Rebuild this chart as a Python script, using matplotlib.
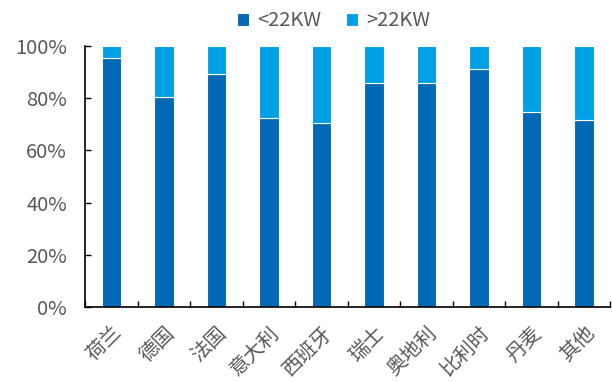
import matplotlib
matplotlib.use('Agg')
import matplotlib.pyplot as plt
import numpy as np

plt.rcParams['font.family'] = ['Noto Sans CJK SC', 'DejaVu Sans']

# data
countries = ['荷兰', '德国', '法国', '意大利', '西班牙', '瑞士', '奥地利', '比利时', '丹麦', '其他']
below22 = [95.3, 80.6, 89.4, 72.3, 70.6, 85.9, 85.9, 91.3, 74.6, 71.8]
above22 = [100 - v for v in below22]

dark = '#0068B5'
light = '#00A0E6'
grey = '#595959'
fs = 14.5

fig = plt.figure(figsize=(6.12, 3.82), dpi=100)
ax = fig.add_axes([0.139, 0.196, 0.858, 0.684])

x = np.arange(len(countries))
ax.bar(x, below22, width=0.37, color=dark, edgecolor='white', linewidth=0.8, label='<22KW')
ax.bar(x, above22, width=0.37, bottom=below22, color=light, edgecolor='white', linewidth=0.8, label='>22KW')

ax.set_xlim(-0.5, len(countries) - 0.5)
ax.set_ylim(0, 100)
ax.set_yticks(range(0, 101, 20))
ax.set_yticklabels([f'{v}%' for v in range(0, 101, 20)], fontsize=fs, color=grey)

# ticks sit between the categories, labels at the centres
ax.set_xticks(np.arange(-0.5, len(countries), 1))
ax.set_xticklabels([])
ax.set_xticks(x, minor=True)
ax.set_xticklabels(countries, minor=True, rotation=45, ha='right', rotation_mode='anchor',
                   fontsize=fs, color=grey)
ax.tick_params(axis='x', which='minor', length=0, pad=11)
ax.tick_params(axis='x', which='major', direction='in', length=4, width=1)
ax.tick_params(axis='y', direction='in', length=4, width=1, pad=13)

for s in ['top', 'right']:
    ax.spines[s].set_visible(False)
for s in ['left', 'bottom']:
    ax.spines[s].set_linewidth(1.2)

fig.legend(loc='upper center', bbox_to_anchor=(0.545, 1.02), ncol=2, frameon=False,
           fontsize=fs, handlelength=0.6, handleheight=0.6, handletextpad=0.4,
           columnspacing=1.2, labelcolor=grey)

fig.savefig('out.png', dpi=100)
